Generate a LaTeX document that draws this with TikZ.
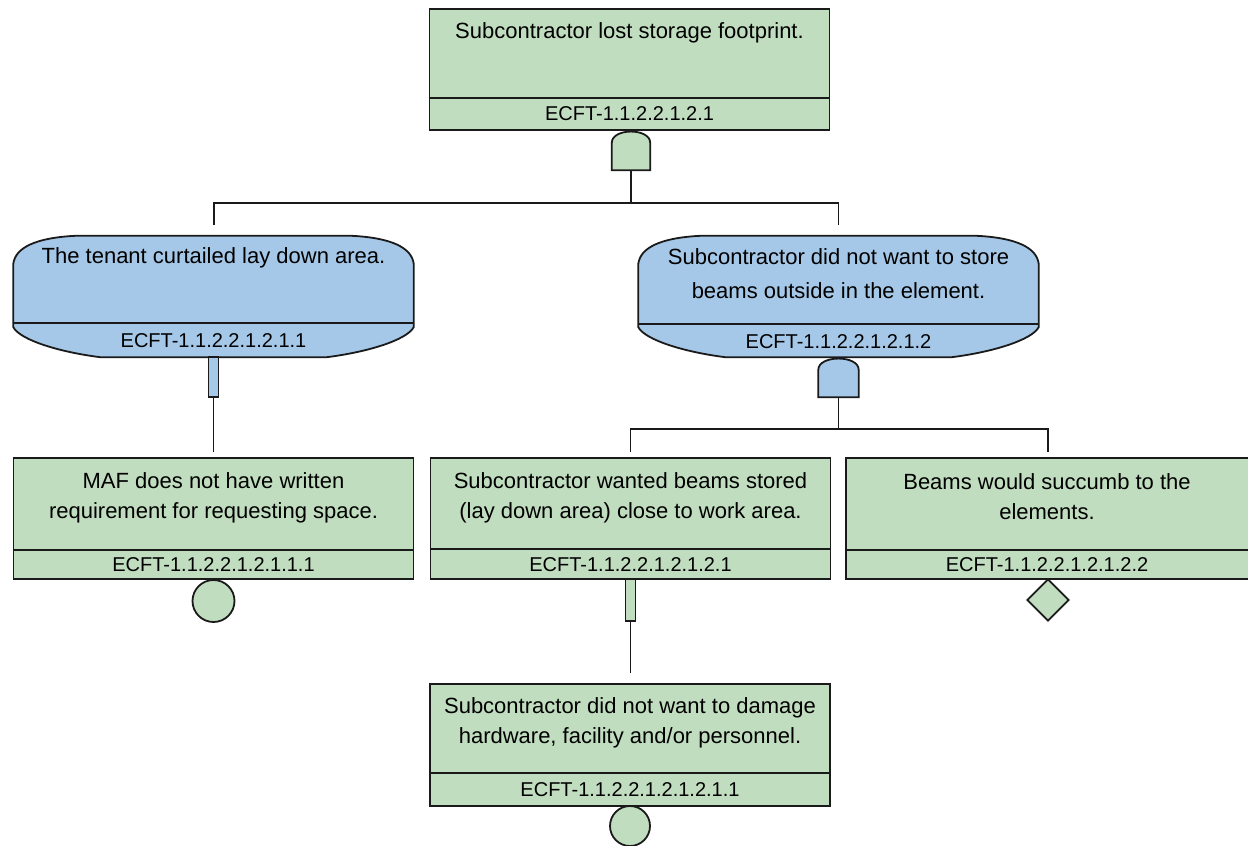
\documentclass[tikz,border=0pt]{standalone}
\usepackage{fontspec}
\setmainfont{Liberation Sans}
\usetikzlibrary{shapes.geometric,calc}

\definecolor{evgreen}{HTML}{C1DDBF}
\definecolor{evblue}{HTML}{A6C8E8}
\definecolor{edge}{HTML}{1A1A1A}

\tikzset{
  rule/.style={draw=edge, line width=1.8pt},
  wire/.style={draw=edge, line width=1.7pt},
  frame/.style={draw=none, inner sep=0pt, minimum width=400pt, minimum height=121pt},
  greenbox/.style={frame, rule, fill=evgreen},
  gateframe/.style={draw=none, inner sep=0pt, minimum width=38pt, minimum height=40pt},
  desc/.style={font=\fontsize{22}{30}\selectfont, align=center, inner sep=0pt},
  ident/.style={font=\fontsize{20}{24}\selectfont, inner sep=0pt},
  bar/.style={rule, inner sep=0pt, minimum width=10pt, minimum height=40pt},
  basic/.style={rule, circle, fill=evgreen, inner sep=0pt, minimum size=42pt},
  undev/.style={rule, diamond, fill=evgreen, inner sep=0pt, minimum width=42pt, minimum height=42pt},
}

% condition event: flat sides, swept top and bottom
\newcommand\condshape[1]{%
  \draw[rule, fill=evblue]
    ($(#1.north west)+(0,28)$) .. controls ($(#1.north west)+(2,12)$) and ($(#1.north west)+(22,2)$) ..
    ($(#1.north west)+(62,0)$) -- ($(#1.north east)+(-62,0)$)
    .. controls ($(#1.north east)+(-22,2)$) and ($(#1.north east)+(-2,12)$) .. ($(#1.north east)+(0,28)$)
    -- ($(#1.south east)+(0,-30)$)
    .. controls ($(#1.south east)+(-7,-17)$) and ($(#1.south east)+(-47,-5)$) .. ($(#1.south east)+(-87,0)$)
    -- ($(#1.south west)+(87,0)$)
    .. controls ($(#1.south west)+(47,-5)$) and ($(#1.south west)+(7,-17)$) .. ($(#1.south west)+(0,-30)$)
    -- cycle;}

% AND gate: flat base, rounded top
\newcommand\ftandgate[2]{%
  \draw[rule, fill=#2] (#1.south west) -- ($(#1.north west)+(0,13)$)
    .. controls ($(#1.north west)+(0,-2)$) and ($(#1.north east)+(0,-2)$) .. ($(#1.north east)+(0,13)$)
    -- (#1.south east) -- cycle;}

% horizontal rule across a box at height y
\newcommand\divider[2]{\draw[rule] (#1.west |- 0,#2) -- (#1.east |- 0,#2);}

\begin{document}
\begin{tikzpicture}[x=1pt, y=-1pt]
\useasboundingbox (0,0) rectangle (1248,846);
\clip (0,0) rectangle (1248,846);

% ---- gates ----
\node[gateframe] (g0) at (631,150) {};
\ftandgate{g0}{evgreen}
\node[gateframe, minimum width=40pt] (g1) at (838.5,377) {};
\ftandgate{g1}{evblue}

% ---- top event ----
\node[greenbox] (n0) at (629.5,69.5) {};
\divider{n0}{98}
\node[desc] at (629.5,33) {Subcontractor lost storage footprint.};
\node[ident] at (629.5,114) {ECFT-1.1.2.2.1.2.1};

% ---- conditions ----
\node[frame] (b1) at (213.5,296.5) {};
\condshape{b1}
\divider{b1}{323}
\node[desc] at (213.5,258) {The tenant curtailed lay down area.};
\node[ident] at (213.5,341) {ECFT-1.1.2.2.1.2.1.1};

\node[frame] (b2) at (838.5,296.5) {};
\condshape{b2}
\divider{b2}{324}
\node[desc, font=\fontsize{22}{34}\selectfont] at (838.5,274) {Subcontractor did not want to store\\beams outside in the element.};
\node[ident] at (838.5,342) {ECFT-1.1.2.2.1.2.1.2};

\node[bar, fill=evblue] (t1) at (213.5,377) {};

% ---- third row ----
\node[greenbox] (m1) at (213.5,518.5) {};
\divider{m1}{550}
\node[desc] at (213.5,498) {MAF does not have written\\requirement for requesting space.};
\node[ident] at (213.5,565) {ECFT-1.1.2.2.1.2.1.1.1};
\node[basic] (c1) at (213.5,601) {};

\node[greenbox] (m2) at (630.5,518.5) {};
\divider{m2}{549}
\node[desc] at (630.5,498) {Subcontractor wanted beams stored\\(lay down area) close to work area.};
\node[ident] at (630.5,565) {ECFT-1.1.2.2.1.2.1.2.1};
\node[bar, fill=evgreen, minimum height=42pt] (t2) at (630.5,600) {};

\node[greenbox, minimum width=406pt] (m3) at (1049,518.5) {};
\divider{m3}{550}
\node[desc] at (1047,497) {Beams would succumb to the\\elements.};
\node[ident] at (1047,565) {ECFT-1.1.2.2.1.2.1.2.2};
\node[undev] (d1) at (1048,600) {};

% ---- bottom event ----
\node[greenbox, minimum height=122pt] (bt) at (630,745) {};
\divider{bt}{773}
\node[desc] at (630,722.5) {Subcontractor did not want to damage\\hardware, facility and/or personnel.};
\node[ident] at (630,790) {ECFT-1.1.2.2.1.2.1.2.1.1};
\node[basic, minimum size=40pt] (c2) at (630,826) {};

% ---- connectors ----
\coordinate (j0) at (631,203);
\coordinate (k1) at (214,225);
\coordinate (k2) at (838.5,225);
\draw[wire] (g0.south) -- (j0);
\draw[wire] (k1) -- (k1 |- j0) -- (k2 |- j0) -- (k2);

\coordinate (k3) at (213.5,452);
\draw[wire] (t1.south) -- (k3);

\coordinate (j1) at (838.5,429);
\coordinate (k4) at (630.5,452);
\coordinate (k5) at (1048,452);
\draw[wire] (g1.south) -- (j1);
\draw[wire] (k4) -- (k4 |- j1) -- (k5 |- j1) -- (k5);

\coordinate (k6) at (630.5,673);
\draw[wire] (t2.south) -- (k6);
\end{tikzpicture}
\end{document}
